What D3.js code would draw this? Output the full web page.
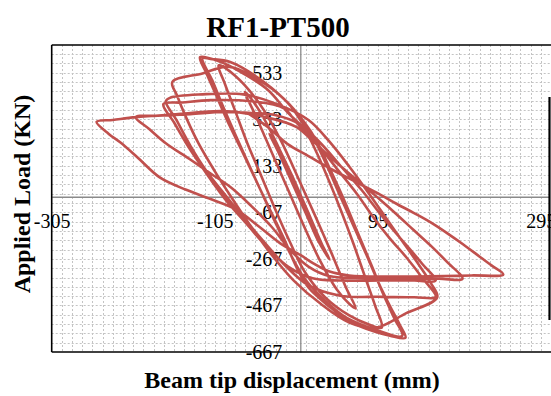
<!DOCTYPE html>
<html>
<head>
<meta charset="utf-8">
<script src="https://cdn.jsdelivr.net/npm/d3@7"></script>
<style>
  html, body { margin: 0; padding: 0; background: #ffffff; }
  svg { display: block; }
  text { font-family: "Liberation Serif", "Times New Roman", serif; fill: #000; }
</style>
</head>
<body>
<svg id="chart" width="551" height="396"></svg>
<script>
// ---------- data (displacement mm, load kN) ----------
const title = "RF1-PT500";
const xLabel = "Beam tip displacement (mm)";
const yLabel = "Applied Load (KN)";
const xTicks = [-305, -105, 95, 295];
const yTicks = [533, 333, 133, -67, -267, -467, -667];

const cycle1 = [[0,0],[-12,90],[-25,190],[-38,270],[-28,200],[-10,60],[8,-80],[22,-190],[36,-270],[26,-200],[10,-70],[0,10]];
const cycle2 = [[-10,90],[-25,200],[-42,320],[-60,420],[-68,450],[-55,350],[-35,190],[-15,30],[5,-130],[25,-280],[45,-400],[60,-460],[68,-480],[56,-390],[38,-240],[18,-80],[0,60]];
const cycle2b = [[-25,250],[-50,400],[-80,520],[-100,565],[-92,480],[-80,370],[-65,230],[-48,90],[-30,-60],[-12,-200],[5,-320],[30,-430],[60,-510],[85,-550],[100,-562],[92,-470],[80,-350],[65,-200],[50,-60],[35,70],[20,190],[5,290]];
const cycle3 = [[-15,360],[-40,460],[-75,540],[-100,582],[-123,600],[-115,530],[-105,450],[-90,330],[-72,200],[-55,75],[-38,-50],[-20,-180],[-5,-300],[10,-390],[35,-470],[60,-535],[90,-578],[110,-597],[129,-606],[122,-550],[110,-470],[96,-370],[80,-240],[62,-100],[48,10],[33,130],[15,260],[0,330]];
const cycle4 = [[-12,390],[-45,494],[-86,579],[-110,592],[-120,595],[-108,500],[-95,390],[-80,270],[-62,130],[-45,0],[-28,-130],[-10,-260],[5,-350],[30,-445],[57,-520],[90,-568],[125,-598],[115,-520],[102,-420],[88,-300],[70,-150],[52,0],[35,130],[20,240],[5,320]];
const cycle5 = [[-20,420],[-50,500],[-88,559],[-120,530],[-157,493],[-151,433],[-140,340],[-125,230],[-105,110],[-85,0],[-62,-120],[-35,-250],[-8,-360],[25,-460],[60,-540],[92,-563],[130,-500],[168,-432],[160,-370],[145,-290],[125,-190],[105,-90],[85,10],[60,130],[35,240],[10,330]];
const cycle5b = [[-30,400],[-70,440],[-120,440],[-160,425],[-165,410],[-152,330],[-135,220],[-115,110],[-95,20],[-72,-80],[-48,-180],[-20,-290],[10,-380],[49,-425],[100,-430],[140,-432],[166,-430],[150,-350],[130,-260],[110,-180],[90,-90],[70,10],[45,120],[20,230],[-5,320]];
const cycle6 = [[-20,380],[-60,410],[-110,415],[-145,405],[-168,398],[-155,320],[-140,230],[-125,150],[-110,74],[-90,-20],[-65,-120],[-40,-220],[-15,-300],[15,-350],[49,-360],[100,-360],[140,-360],[166,-360],[150,-290],[132,-215],[114,-143],[95,-60],[75,30],[50,130],[25,230],[0,310]];
const cycle7 = [[-30,350],[-60,360],[-94,364],[-135,355],[-175,348],[-202,342],[-185,290],[-165,230],[-135,160],[-110,100],[-85,40],[-60,-40],[-35,-130],[-12,-230],[10,-300],[35,-340],[80,-350],[130,-352],[170,-352],[199,-352],[180,-280],[160,-210],[139,-143],[118,-75],[98,-13],[70,70],[40,160],[15,240],[-5,300]];
const cycle8 = [[-40,340],[-94,368],[-150,355],[-202,342],[-230,330],[-250,322],[-235,270],[-221,234],[-200,170],[-172,82],[-140,30],[-110,-10],[-78,-56],[-50,-130],[-25,-199],[0,-250],[16,-286],[35,-320],[60,-338],[110,-343],[160,-342],[210,-338],[249,-334],[235,-296],[221,-260],[200,-205],[180,-156],[160,-110],[139,-69],[118,-30],[98,9],[70,60],[40,115],[10,175],[-15,225],[-40,300],[-65,360]];

const cycles = [cycle1, cycle2, cycle2b, cycle3, cycle4, cycle5, cycle5b, cycle6, cycle7, cycle8];

// ---------- layout ----------
const W = 551, H = 396;
const plot = { left: 51.7, right: 548.9, top: 45, bottom: 352 };
const svg = d3.select("#chart");
svg.append("rect").attr("width", W).attr("height", H).attr("fill", "#fff");

const x = d3.scaleLinear().domain([-305, 305]).range([plot.left, plot.right]);
const y = d3.scaleLinear().domain([-667, 652]).range([plot.bottom, plot.top]);

// minor grid (dotted)
const grid = svg.append("g").attr("stroke", "#c4c4c4").attr("stroke-width", 1).attr("stroke-dasharray", "2,2");
for (let v = -305 + 12.5; v < 310; v += 12.5) {
  const px = Math.round(x(v)) + 0.5;
  grid.append("line").attr("x1", px).attr("x2", px).attr("y1", plot.top).attr("y2", plot.bottom);
}
for (let v = -667 + 40; v < 652; v += 40) {
  const py = Math.round(y(v)) + 0.5;
  grid.append("line").attr("x1", plot.left).attr("x2", W).attr("y1", py).attr("y2", py);
}

// data path
svg.append("clipPath").attr("id", "clip").append("rect")
  .attr("x", plot.left).attr("y", plot.top).attr("width", W - plot.left).attr("height", plot.bottom - plot.top);

const points = [].concat(...cycles);
const line = d3.line().x(d => x(d[0])).y(d => y(d[1])).curve(d3.curveCatmullRom.alpha(0.5));

// axes through origin
const fmt = d => String(d);
const xAxis = d3.axisBottom(x).tickValues(xTicks).tickSize(0).tickPadding(17).tickFormat(fmt);
const yAxis = d3.axisLeft(y).tickValues(yTicks).tickSize(0).tickPadding(18).tickFormat(fmt);

const gx = svg.append("g").attr("transform", `translate(0,${y(0)})`).call(xAxis);
const gy = svg.append("g").attr("transform", `translate(${x(0)},0)`).call(yAxis);
[gx, gy].forEach(g => {
  g.select(".domain").attr("stroke", "#8a8a8a").attr("stroke-width", 1.3);
  g.selectAll("text").attr("font-family", "'Liberation Serif', 'Times New Roman', serif")
    .attr("font-size", 20).attr("fill", "#000");
});

svg.append("path").datum(points)
  .attr("clip-path", "url(#clip)")
  .attr("fill", "none")
  .attr("stroke", "#c0504d")
  .attr("stroke-width", 2.6)
  .attr("stroke-linejoin", "round")
  .attr("d", line);

// plot border
const border = svg.append("g").attr("stroke", "#000").attr("stroke-width", 1.6).attr("fill", "none");
border.append("line").attr("x1", plot.left).attr("x2", W).attr("y1", plot.top).attr("y2", plot.top);
border.append("line").attr("x1", plot.left).attr("x2", W).attr("y1", plot.bottom).attr("y2", plot.bottom);
border.append("line").attr("x1", plot.left).attr("x2", plot.left).attr("y1", plot.top).attr("y2", plot.bottom);
border.append("line").attr("x1", 549.5).attr("x2", 549.5).attr("y1", 97).attr("y2", 320).attr("stroke-width", 2.2);

// titles
svg.append("text").attr("x", 278).attr("y", 37).attr("text-anchor", "middle")
  .attr("font-size", 29).attr("font-weight", "bold").text(title);
svg.append("text").attr("x", 292).attr("y", 388).attr("text-anchor", "middle")
  .attr("font-size", 24).attr("font-weight", "bold").text(xLabel);
svg.append("text").attr("transform", "translate(30,194) rotate(-90)").attr("text-anchor", "middle")
  .attr("font-size", 24).attr("font-weight", "bold").text(yLabel);
</script>
</body>
</html>
